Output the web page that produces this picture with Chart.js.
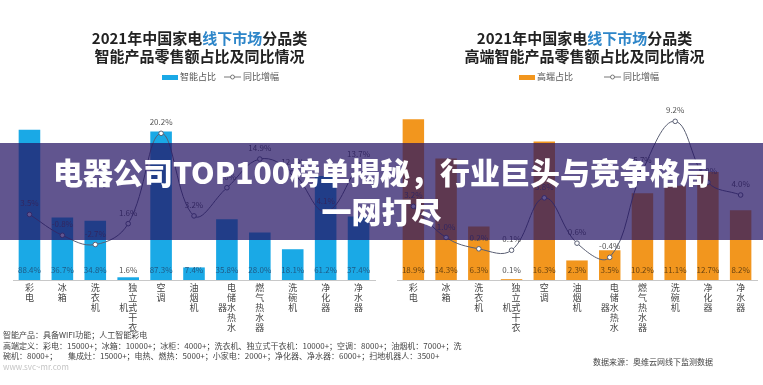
<!DOCTYPE html>
<html>
<head>
<meta charset="utf-8">
<script src="https://cdn.jsdelivr.net/npm/chart.js@4.4.1/dist/chart.umd.min.js"></script>
<style>
  body { margin: 0; background: #fff; font-family: "Noto Sans CJK SC", "Noto Sans", sans-serif; }
  #wrap { position: relative; width: 763px; height: 385px; overflow: hidden; background: #fff; }
  canvas { position: absolute; top: 0; }
  .title { position: absolute; top: 29px; width: 381px; text-align: center; font-size: 15px; font-weight: 700; line-height: 18px; color: #222; }
  .title .hl { color: #2e86c9; }
  .legend { position: absolute; top: 71px; font-size: 9px; color: #555; line-height: 12px; white-space: nowrap; }
  .legend span { position: absolute; top: 0; }
  .legend i { position: absolute; top: 4px; width: 16px; height: 5px; }
  .legend svg { position: absolute; top: 1px; }
  .note { position: absolute; left: 3px; top: 330px; font-size: 8px; line-height: 10.5px; color: #444; white-space: nowrap; }
  .note .wm { color: #c4c4c4; }
  .source { position: absolute; left: 593px; top: 356px; font-size: 8px; color: #444; white-space: nowrap; }
  #banner { position: absolute; left: 0; top: 143px; width: 763px; height: 97px; background: rgba(36, 20, 100, 0.72);
            color: #fff; text-align: center; font-size: 30px; font-weight: 900; line-height: 39px; padding-top: 9px; box-sizing: border-box; }
</style>
</head>
<body>
<div id="wrap">
  <canvas id="left-chart" width="381" height="385" style="left:0"></canvas>
  <canvas id="right-chart" width="381" height="385" style="left:381px"></canvas>

  <div class="title" style="left:9px">2021年中国家电<span class="hl">线下市场</span>分品类<br>智能产品零售额占比及同比情况</div>
  <div class="title" style="left:394px">2021年中国家电<span class="hl">线下市场</span>分品类<br>高端智能产品零售额占比及同比情况</div>

  <div class="legend" style="left:0">
    <i style="left:162px;background:#1aa9e6"></i><span style="left:180px">智能占比</span>
    <svg style="left:224px" width="17" height="10"><line x1="0" y1="5" x2="17" y2="5" stroke="#777" stroke-width="1"/><circle cx="8.5" cy="5" r="2" fill="#fff" stroke="#777"/></svg>
    <span style="left:243px">同比增幅</span>
  </div>
  <div class="legend" style="left:0">
    <i style="left:519px;background:#f2961e"></i><span style="left:537px">高端占比</span>
    <svg style="left:604px" width="17" height="10"><line x1="0" y1="5" x2="17" y2="5" stroke="#777" stroke-width="1"/><circle cx="8.5" cy="5" r="2" fill="#fff" stroke="#777"/></svg>
    <span style="left:623px">同比增幅</span>
  </div>

  <div class="note">
    智能产品：具备WIFI功能；人工智能彩电<br>
    高端定义：彩电：15000+；冰箱：10000+；冰柜：4000+；洗衣机、独立式干衣机：10000+；空调：8000+；油烟机：7000+；洗<br>
    碗机：8000+；&nbsp;&nbsp;&nbsp;&nbsp;&nbsp;&nbsp;集成灶：15000+；电热、燃热：5000+；小家电：2000+；净化器、净水器：6000+；扫地机器人：3500+<br>
    <span class="wm">www.svc~mr.com</span>
  </div>
  <div class="source">数据来源：奥维云网线下监测数据</div>

  <div id="banner">电器公司TOP100榜单揭秘，行业巨头与竞争格局<br>一网打尽</div>
</div>

<script>
// --- Data ---
const categories = ['彩电', '冰箱', '洗衣机', '独立式干衣机', '空调', '油烟机', '电储水热水器', '燃气热水器', '洗碗机', '净化器', '净水器'];

const smartShare = [88.4, 36.7, 34.8, 1.6, 87.3, 7.4, 35.8, 28.0, 18.1, 61.2, 37.4];
const smartYoY = [3.5, -0.8, -2.7, 1.6, 20.2, 3.2, 9.0, 14.9, 12.1, 4.1, 13.7];

const premiumShare = [18.9, 14.3, 6.3, 0.1, 16.3, 2.3, 3.5, 10.2, 11.1, 12.7, 8.2];
const premiumYoY = [3.2, 1.0, 0.2, 0.1, 3.8, 0.6, -0.4, 5.7, 9.2, 4.9, 4.0];

// vertical labels: one char per line, a second column when longer than 5
function verticalLabel(name) {
    const chars = Array.from(name);
    if (chars.length <= 5) return chars;
    const main = chars.slice(0, 5);
    const rest = chars.slice(5);
    const start = Math.floor((5 - rest.length) / 2);
    return main.map((c, i) => {
        const r = i - start;
        return (r >= 0 && r < rest.length ? rest[r] : '\u3000') + c;
    });
}

// --- Value labels on bars and line points ---
const valueLabels = {
    id: 'valueLabels',
    afterDatasetsDraw(chart, args, opts) {
        const ctx = chart.ctx;
        const bars = chart.getDatasetMeta(0).data;
        const points = chart.getDatasetMeta(1).data;
        const base = chart.scales.y.getPixelForValue(0);
        ctx.save();
        ctx.font = '8px "Noto Sans CJK SC"';
        ctx.textAlign = 'center';
        ctx.textBaseline = 'middle';
        bars.forEach((bar, i) => {
            const v = chart.data.datasets[0].data[i];
            ctx.fillStyle = (base - bar.y) > 6 ? opts.barText : '#555';
            ctx.fillText(v.toFixed(1) + '%', bar.x, base - 10);
        });
        points.forEach((pt, i) => {
            const v = chart.data.datasets[1].data[i];
            ctx.fillStyle = '#555';
            ctx.fillText(v.toFixed(1) + '%', pt.x, pt.y - 11);
        });
        ctx.restore();
    }
};

function makeChart(id, shares, yoy, barColor, barText, yMax, y1Min, y1Max, padLeft, padRight) {
    const ctx = document.getElementById(id).getContext('2d');
    return new Chart(ctx, {
        data: {
            labels: categories.map(verticalLabel),
            datasets: [{
                type: 'bar',
                data: shares,
                backgroundColor: barColor,
                yAxisID: 'y',
                barPercentage: 0.8,
                categoryPercentage: 0.82,
                order: 2
            }, {
                type: 'line',
                data: yoy,
                yAxisID: 'y1',
                borderColor: '#5a5f73',
                borderWidth: 1,
                tension: 0.4,
                pointRadius: 2.3,
                pointBorderWidth: 1,
                pointBackgroundColor: '#fff',
                pointBorderColor: '#5a5f73',
                order: 1
            }]
        },
        options: {
            responsive: false,
            animation: false,
            layout: { padding: { top: 110, left: padLeft, right: padRight, bottom: 0 } },
            scales: {
                x: {
                    grid: { display: false, drawTicks: false },
                    border: { display: true, color: '#c8c8c8' },
                    ticks: {
                        autoSkip: false,
                        maxRotation: 0,
                        padding: 3,
                        color: '#444',
                        font: { family: '"Noto Sans CJK SC"', size: 9, lineHeight: 1.1 }
                    },
                    afterFit: s => { s.height = 105; }
                },
                y: { display: false, min: 0, max: yMax },
                y1: { display: false, min: y1Min, max: y1Max }
            },
            plugins: {
                legend: { display: false },
                tooltip: { enabled: false },
                valueLabels: { barText: barText }
            }
        },
        plugins: [valueLabels]
    });
}

document.addEventListener('DOMContentLoaded', () => {
    makeChart('left-chart', smartShare, smartYoY, '#1aa9e6', '#1f5a85', 100, -10, 25, 13, 6);
    makeChart('right-chart', premiumShare, premiumYoY, '#f2961e', '#6b4410', 20, -2, 10, 16, 2);
});
</script>
</body>
</html>
